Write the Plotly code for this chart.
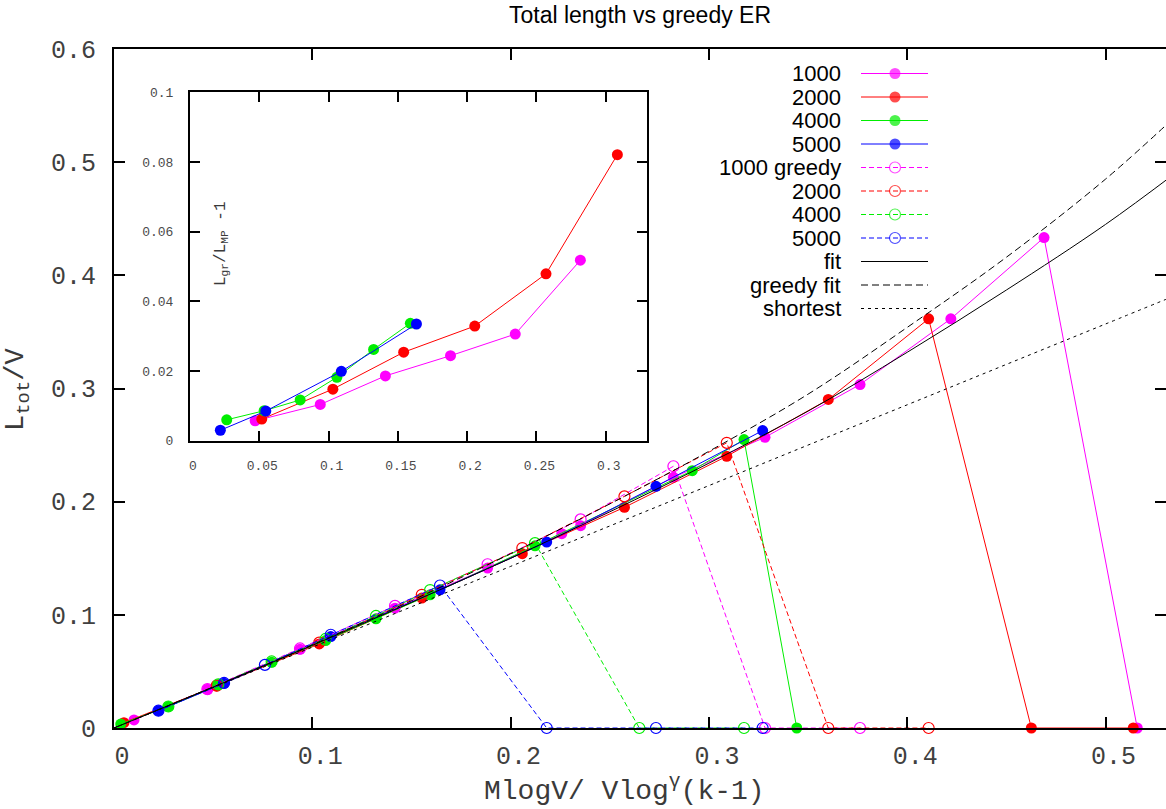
import plotly.graph_objects as go

# ---------------- data ----------------
# main panel: filled markers = total length, open markers = greedy
x_1000 = [0.0101, 0.0471, 0.0938, 0.1417, 0.1884, 0.2258, 0.2353, 0.2821, 0.3283, 0.3762, 0.4220, 0.4690, 0.5160]
y_1000 = [0.0071, 0.0342, 0.0696, 0.1059, 0.1413, 0.1717, 0.1788, 0.2215, 0.2569, 0.3035, 0.3616, 0.4334, 0.0]
x_2000 = [0.0050, 0.0518, 0.1035, 0.1552, 0.2059, 0.2574, 0.3090, 0.3602, 0.4108, 0.4626, 0.5140]
y_2000 = [0.0047, 0.0372, 0.0743, 0.1148, 0.1540, 0.1950, 0.2401, 0.2903, 0.3616, 0.0, 0.0]
x_4000 = [0.0034, 0.0274, 0.0526, 0.0795, 0.1067, 0.1321, 0.1594, 0.2123, 0.2916, 0.3177, 0.3443]
y_4000 = [0.0035, 0.0189, 0.0383, 0.0581, 0.0773, 0.0965, 0.1177, 0.1610, 0.2274, 0.2549, 0.0]
x_5000 = [0.0224, 0.0555, 0.1093, 0.1644, 0.2182, 0.2733, 0.3271]
y_5000 = [0.0153, 0.0395, 0.0808, 0.1221, 0.1643, 0.2136, 0.2628]

gx_1000 = [0.0471, 0.0938, 0.1417, 0.1884, 0.2353, 0.2821, 0.3283, 0.3762]
gy_1000 = [0.0344, 0.0703, 0.1079, 0.1447, 0.1843, 0.2313, 0.0, 0.0]
gx_2000 = [0.0518, 0.1035, 0.1552, 0.2059, 0.2574, 0.3090, 0.3602, 0.4108]
gy_2000 = [0.0374, 0.0754, 0.1177, 0.1590, 0.2047, 0.2520, 0.0, 0.0]
gx_4000 = [0.0274, 0.0526, 0.0795, 0.1067, 0.1321, 0.1594, 0.2123, 0.2649, 0.3177]
gy_4000 = [0.0190, 0.0386, 0.0588, 0.0787, 0.0990, 0.1219, 0.1634, 0.0, 0.0]
gx_5000 = [0.0224, 0.0555, 0.0761, 0.1093, 0.1644, 0.2182, 0.2733, 0.3271]
gy_5000 = [0.0153, 0.0398, 0.0558, 0.0824, 0.1259, 0.0, 0.0, 0.0]

# reference curves
curve_x   = [0, 0.05, 0.10, 0.15, 0.20, 0.25, 0.30, 0.35, 0.40, 0.45, 0.50, 0.535]
fit_y     = [0, 0.0362, 0.0730, 0.1110, 0.1500, 0.1910, 0.2340, 0.2800, 0.3320, 0.3870, 0.4450, 0.4900]
gfit_y    = [0, 0.0363, 0.0735, 0.1125, 0.1540, 0.1980, 0.2445, 0.2950, 0.3540, 0.4160, 0.4850, 0.5400]
short_y   = [0, 0.0357, 0.0714, 0.1071, 0.1428, 0.1785, 0.2142, 0.2500, 0.2856, 0.3213, 0.3570, 0.3820]

# inset: L_gr/L_MP - 1
ix_1000 = [0.0470, 0.0940, 0.1410, 0.1880, 0.2347, 0.2817]
iy_1000 = [0.0057, 0.0104, 0.0186, 0.0244, 0.0306, 0.0518]
ix_2000 = [0.0518, 0.1031, 0.1542, 0.2055, 0.2569, 0.3084]
iy_2000 = [0.0062, 0.0148, 0.0254, 0.0329, 0.0479, 0.0821]
ix_4000 = [0.0265, 0.0535, 0.0795, 0.1060, 0.1325, 0.1590]
iy_4000 = [0.0060, 0.0086, 0.0117, 0.0182, 0.0262, 0.0337]
ix_5000 = [0.0219, 0.0547, 0.1092, 0.1634]
iy_5000 = [0.0030, 0.0085, 0.0199, 0.0335]

main_xticks = [0, 0.1, 0.2, 0.3, 0.4, 0.5]
main_yticks = [0, 0.1, 0.2, 0.3, 0.4, 0.5, 0.6]
inset_xticks = [0, 0.05, 0.1, 0.15, 0.2, 0.25, 0.3]
inset_yticks = [0, 0.02, 0.04, 0.06, 0.08, 0.1]

legend_labels = ["1000", "2000", "4000", "5000", "1000 greedy", "2000", "4000", "5000",
                 "fit", "greedy fit", "shortest"]

# ---------------- style / layout ----------------
W, H = 1166, 809
ML, MT, MB, MR = 114, 49, 81, 0
X_MAX, Y_MAX = 0.5305, 0.6
MAG, RED, GRN, BLU = "#ff00ff", "#ff0000", "#00ee00", "#0000ff"
MONO = "Liberation Mono"
SANS = "Liberation Sans"
GDASH = "5px,3px"
FITDASH = "7px,4px"
SHORTDASH = "3px,4px"
MSIZE = 11

PW, PH = W - ML - MR, H - MT - MB


def px2paper_x(px):
    return (px - ML) / PW


def px2paper_y(py):
    return (H - MB - py) / PH


fig = go.Figure()


def add_series(x, y, color, dash, filled, xa="x", ya="y"):
    fig.add_trace(go.Scatter(
        x=x, y=y, mode="lines+markers", xaxis=xa, yaxis=ya,
        line=dict(color=color, width=1, dash=dash),
        marker=dict(symbol="circle" if filled else "circle-open", size=MSIZE,
                    color=color, line=dict(width=1.2 if not filled else 0, color=color)),
        cliponaxis=False, showlegend=False, hoverinfo="skip"))


main_sets = [(x_1000, y_1000, MAG), (x_2000, y_2000, RED), (x_4000, y_4000, GRN), (x_5000, y_5000, BLU)]
greedy_sets = [(gx_1000, gy_1000, MAG), (gx_2000, gy_2000, RED), (gx_4000, gy_4000, GRN), (gx_5000, gy_5000, BLU)]
for x, y, c in main_sets:
    add_series(x, y, c, "solid", True)
for x, y, c in greedy_sets:
    add_series(x, y, c, GDASH, False)

for yy, dash in [(fit_y, "solid"), (gfit_y, FITDASH), (short_y, SHORTDASH)]:
    fig.add_trace(go.Scatter(x=curve_x, y=yy, mode="lines", line=dict(color="black", width=1, dash=dash, shape="spline"),
                             showlegend=False, hoverinfo="skip"))

# right-hand mirror ticks (no line) on an overlaying axis
fig.add_trace(go.Scatter(x=[None], y=[None], xaxis="x", yaxis="y2", showlegend=False, hoverinfo="skip"))

# inset
inset_sets = [(ix_1000, iy_1000, MAG), (ix_2000, iy_2000, RED), (ix_4000, iy_4000, GRN), (ix_5000, iy_5000, BLU)]
for x, y, c in inset_sets:
    add_series(x, y, c, "solid", True, xa="x3", ya="y3")

# custom legend (text left, sample right) on a pixel-scaled helper axis
LEG_TEXT_RIGHT = 843
LEG_X0, LEG_XM, LEG_X1 = 861, 895, 928
LEG_Y0, LEG_DY = 73.5, 23.5
leg_styles = [(MAG, "solid", "f"), (RED, "solid", "f"), (GRN, "solid", "f"), (BLU, "solid", "f"),
              (MAG, GDASH, "o"), (RED, GDASH, "o"), (GRN, GDASH, "o"), (BLU, GDASH, "o"),
              ("black", "solid", None), ("black", FITDASH, None), ("black", SHORTDASH, None)]
annotations = []
for i, (lab, (c, dash, mk)) in enumerate(zip(legend_labels, leg_styles)):
    yrow = LEG_Y0 + i * LEG_DY
    if mk is None:
        fig.add_trace(go.Scatter(x=[LEG_X0, LEG_X1], y=[yrow, yrow], xaxis="x4", yaxis="y4", mode="lines",
                                 line=dict(color=c, width=1, dash=dash), showlegend=False, hoverinfo="skip",
                                 cliponaxis=False))
    else:
        fig.add_trace(go.Scatter(x=[LEG_X0, LEG_XM, LEG_X1], y=[yrow] * 3, xaxis="x4", yaxis="y4",
                                 mode="lines+markers", line=dict(color=c, width=1, dash=dash),
                                 marker=dict(symbol="circle" if mk == "f" else "circle-open",
                                             size=[0, MSIZE, 0], color=c,
                                             line=dict(width=0 if mk == "f" else 1.2, color=c)),
                                 showlegend=False, hoverinfo="skip", cliponaxis=False))
    annotations.append(dict(x=LEG_TEXT_RIGHT, y=yrow, xref="x4", yref="y4", text=lab, showarrow=False,
                            xanchor="right", yanchor="middle", font=dict(family=SANS, size=22, color="black")))

# axis titles and inset label as annotations
annotations.append(dict(x=px2paper_x(624), y=px2paper_y(789), xref="paper", yref="paper",
                        text="MlogV/ Vlog<sup>γ</sup>(k-1)", showarrow=False, xanchor="center", yanchor="middle",
                        font=dict(family=MONO, size=28, color="#3a3a3a")))
annotations.append(dict(x=px2paper_x(18), y=px2paper_y(390), xref="paper", yref="paper",
                        text="L<sub>tot</sub>/V", textangle=-90, showarrow=False, xanchor="center",
                        yanchor="middle", font=dict(family=MONO, size=27, color="#3a3a3a")))
annotations.append(dict(x=px2paper_x(222), y=px2paper_y(244), xref="paper", yref="paper",
                        text="L<sub>gr</sub>/L<sub>MP</sub> -1", textangle=-90, showarrow=False,
                        xanchor="center", yanchor="middle", font=dict(family=MONO, size=16, color="#3a3a3a")))

tickfont_main = dict(family=MONO, size=25, color="#404040")
tickfont_inset = dict(family=MONO, size=13, color="#4a4a4a")

fig.update_layout(
    width=W, height=H, margin=dict(l=ML, r=MR, t=MT, b=MB, pad=0),
    paper_bgcolor="white", plot_bgcolor="white",
    title=dict(text="Total length vs greedy ER", x=0.5, xref="paper", xanchor="center",
               y=1 - 15 / H, yref="container", yanchor="middle",
               font=dict(family=SANS, size=23, color="black")),
    xaxis=dict(domain=[0, 1], range=[0, X_MAX], tickvals=main_xticks, ticks="inside", ticklen=11,
               tickcolor="black", tickwidth=1.5, showline=True, linecolor="black", linewidth=2, mirror="ticks",
               showgrid=False, zeroline=False, tickfont=tickfont_main, ticklabelstandoff=4,
               ticklabelshift=8, anchor="y"),
    yaxis=dict(domain=[0, 1], range=[0, Y_MAX], tickvals=main_yticks, ticks="inside", ticklen=11,
               tickcolor="black", tickwidth=1.5, showline=True, linecolor="black", linewidth=2, mirror=False,
               showgrid=False, zeroline=False, tickfont=tickfont_main, ticklabelstandoff=11, anchor="x"),
    yaxis2=dict(overlaying="y", side="right", range=[0, Y_MAX], tickvals=main_yticks, ticks="inside",
                ticklen=11, tickcolor="black", tickwidth=1.5, showline=False, showticklabels=False,
                showgrid=False, zeroline=False, anchor="x"),
    xaxis3=dict(domain=[px2paper_x(190), px2paper_x(647.3)], range=[0, 0.33], tickvals=inset_xticks,
                ticks="inside", ticklen=10, tickcolor="black", tickwidth=1.5, showline=True, linecolor="black",
                linewidth=2, mirror="ticks", showgrid=False, zeroline=False, tickfont=tickfont_inset,
                ticklabelstandoff=12, ticklabelshift=3, anchor="y3"),
    yaxis3=dict(domain=[px2paper_y(440.7), px2paper_y(92.3)], range=[0, 0.1], tickvals=inset_yticks,
                ticks="inside", ticklen=10, tickcolor="black", tickwidth=1.5, showline=True, linecolor="black",
                linewidth=2, mirror="ticks", showgrid=False, zeroline=False, tickfont=tickfont_inset,
                ticklabelstandoff=12, anchor="x3"),
    xaxis4=dict(overlaying="x", range=[ML, W - MR], visible=False, anchor="y4"),
    yaxis4=dict(overlaying="y", range=[H - MB, MT], visible=False, anchor="x4"),
    annotations=annotations,
    showlegend=False,
)

fig.write_html("out.html", config={"displayModeBar": False},
               post_script="document.body.style.margin='0px';")
